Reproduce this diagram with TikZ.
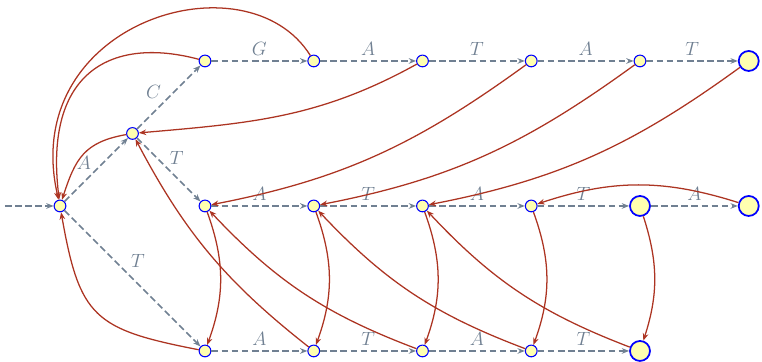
\documentclass[tikz,border=0pt]{standalone}
\usepackage{amsmath,amssymb}
\usepackage{tikz}
\usetikzlibrary{arrows.meta}

\definecolor{triegray}{RGB}{112,128,146}
\definecolor{linkred}{RGB}{172,52,34}
\definecolor{statefill}{RGB}{255,255,176}

\begin{document}
\begin{tikzpicture}[x=1.911cm,y=1.911cm,>={Stealth[length=5.5pt,width=4.2pt]},
  state/.style={circle,draw=blue,fill=statefill,inner sep=0pt,minimum size=8.8pt,line width=0.8pt},
  final/.style={state,minimum size=15pt,line width=1.3pt},
  trie/.style={->,triegray,line width=1.1pt,dash pattern=on 5pt off 2.6pt},
  fail/.style={->,linkred,line width=0.95pt},
  lbl/.style={text=triegray,font=\Large}]
  \useasboundingbox (-0.8276,-2.152) rectangle (9.683,2.841);

  % states
  \node[state] (r) at (0,0) {};
  \node[state] (n1) at (1,1) {};
  \node[state] (t0) at (2,2) {};
  \node[state] (t1) at (3.5,2) {};
  \node[state] (t2) at (5,2) {};
  \node[state] (t3) at (6.5,2) {};
  \node[state] (t4) at (8,2) {};
  \node[final] (t5) at (9.5,2) {};
  \node[state] (m0) at (2,0) {};
  \node[state] (m1) at (3.5,0) {};
  \node[state] (m2) at (5,0) {};
  \node[state] (m3) at (6.5,0) {};
  \node[final] (m4) at (8,0) {};
  \node[final] (m5) at (9.5,0) {};
  \node[state] (b0) at (2,-2) {};
  \node[state] (b1) at (3.5,-2) {};
  \node[state] (b2) at (5,-2) {};
  \node[state] (b3) at (6.5,-2) {};
  \node[final] (b4) at (8,-2) {};
  \coordinate (in) at (-0.76,0);

  % trie edges
  \draw[trie] (in) -- (r);
  \draw[trie] (r) -- node[lbl,left,yshift=5pt] {$A$} (n1);
  \draw[trie] (n1) -- node[lbl,left,yshift=4pt,xshift=-2pt] {$C$} (t0);
  \draw[trie] (n1) -- node[lbl,above,xshift=6pt] {$T$} (m0);
  \draw[trie] (r) -- node[lbl,above,xshift=4pt,yshift=4pt] {$T$} (b0);
  \draw[trie] (t0) -- node[lbl,above] {$G$} (t1);
  \draw[trie] (t1) -- node[lbl,above] {$A$} (t2);
  \draw[trie] (t2) -- node[lbl,above] {$T$} (t3);
  \draw[trie] (t3) -- node[lbl,above] {$A$} (t4);
  \draw[trie] (t4) -- node[lbl,above] {$T$} (t5);
  \draw[trie] (m0) -- node[lbl,above] {$A$} (m1);
  \draw[trie] (m1) -- node[lbl,above] {$T$} (m2);
  \draw[trie] (m2) -- node[lbl,above] {$A$} (m3);
  \draw[trie] (m3) -- node[lbl,above] {$T$} (m4);
  \draw[trie] (m4) -- node[lbl,above] {$A$} (m5);
  \draw[trie] (b0) -- node[lbl,above] {$A$} (b1);
  \draw[trie] (b1) -- node[lbl,above] {$T$} (b2);
  \draw[trie] (b2) -- node[lbl,above] {$A$} (b3);
  \draw[trie] (b3) -- node[lbl,above] {$T$} (b4);

  % failure links
  \draw[fail] (t1) .. controls +(122:1.75) and +(103:2.6) .. (r);
  \draw[fail] (t0) .. controls +(165:1.3) and +(97:1.9) .. (r);
  \draw[fail] (n1) to[out=190,in=72,looseness=1.2] (r);
  \draw[fail] (b0) to[out=169,in=-80,looseness=1.4] (r);
  \draw[fail] (t2) to[out=209,in=5] (n1);
  \draw[fail] (t3) to[out=216,in=11] (m0);
  \draw[fail] (t4) to[out=216,in=11] (m1);
  \draw[fail] (t5) to[out=216,in=11] (m2);
  \draw[fail] (m5) to[bend right=18] (m3);
  \draw[fail] (m0) to[bend left=20] (b0);
  \draw[fail] (m1) to[bend left=20] (b1);
  \draw[fail] (m2) to[bend left=20] (b2);
  \draw[fail] (m3) to[bend left=20] (b3);
  \draw[fail] (m4) to[bend left=18] (b4);
  \draw[fail] (b1) to[bend left=12] (n1);
  \draw[fail] (b2) to[bend left=13] (m0);
  \draw[fail] (b3) to[bend left=13] (m1);
  \draw[fail] (b4) to[bend left=13] (m2);
\end{tikzpicture}
\end{document}
